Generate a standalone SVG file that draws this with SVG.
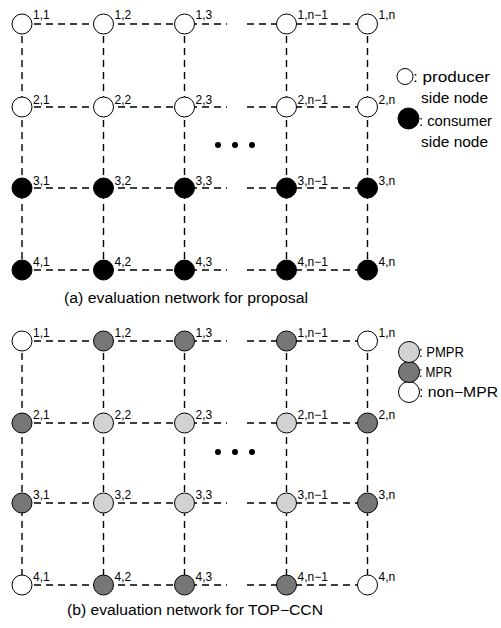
<svg xmlns="http://www.w3.org/2000/svg" width="501" height="628" viewBox="0 0 501 628">
<style>
.e{stroke:#000;stroke-width:1.4;stroke-dasharray:7 5;fill:none}
.n{stroke:#000;stroke-width:1}
.w{fill:#fff}
.b{fill:#000}
.m{fill:#777}
.p{fill:#d2d2d2}
.l{font-family:"Liberation Sans",Arial,sans-serif;font-size:12px;fill:#000}
.t{font-family:"Liberation Sans",Arial,sans-serif;font-size:14px;fill:#000}
</style>
<rect width="501" height="628" fill="#fff"/>
<g id="connectors">
<path class="e" d="M22,24H227M247,24H367.5M22,107H227M247,107H367.5M22,188H227M247,188H367.5M22,270H227M247,270H367.5"/>
<path class="e" d="M22,24V270M103.5,24V270M184.5,24V270M286.5,24V270M367.5,24V270"/>
<path class="e" d="M22,341H227M247,341H367.5M22,423H227M247,423H367.5M22,503H227M247,503H367.5M22,585H227M247,585H367.5"/>
<path class="e" d="M22,341V585M103.5,341V585M184.5,341V585M286.5,341V585M367.5,341V585"/>
</g>
<g id="ellipsis-a"><circle cx="218" cy="145" r="3"/><circle cx="235" cy="145" r="3"/><circle cx="252" cy="145" r="3"/></g>
<g id="ellipsis-b"><circle cx="218" cy="452" r="3"/><circle cx="235" cy="452" r="3"/><circle cx="252" cy="452" r="3"/></g>

<g id="a-1-1"><circle class="n w" cx="22" cy="24" r="10"/><text class="l" x="33" y="19">1,1</text></g>
<g id="a-1-2"><circle class="n w" cx="103.5" cy="24" r="10"/><text class="l" x="114.5" y="19">1,2</text></g>
<g id="a-1-3"><circle class="n w" cx="184.5" cy="24" r="10"/><text class="l" x="195.5" y="19">1,3</text></g>
<g id="a-1-n1"><circle class="n w" cx="286.5" cy="24" r="10"/><text class="l" x="297.5" y="19">1,n−1</text></g>
<g id="a-1-n"><circle class="n w" cx="367.5" cy="24" r="10"/><text class="l" x="378.5" y="19">1,n</text></g>

<g id="a-2-1"><circle class="n w" cx="22" cy="107" r="10"/><text class="l" x="33" y="103.5">2,1</text></g>
<g id="a-2-2"><circle class="n w" cx="103.5" cy="107" r="10"/><text class="l" x="114.5" y="103.5">2,2</text></g>
<g id="a-2-3"><circle class="n w" cx="184.5" cy="107" r="10"/><text class="l" x="195.5" y="103.5">2,3</text></g>
<g id="a-2-n1"><circle class="n w" cx="286.5" cy="107" r="10"/><text class="l" x="297.5" y="103.5">2,n−1</text></g>
<g id="a-2-n"><circle class="n w" cx="367.5" cy="107" r="10"/><text class="l" x="378.5" y="103.5">2,n</text></g>

<g id="a-3-1"><circle class="n b" cx="22" cy="188" r="10"/><text class="l" x="33" y="184.5">3,1</text></g>
<g id="a-3-2"><circle class="n b" cx="103.5" cy="188" r="10"/><text class="l" x="114.5" y="184.5">3,2</text></g>
<g id="a-3-3"><circle class="n b" cx="184.5" cy="188" r="10"/><text class="l" x="195.5" y="184.5">3,3</text></g>
<g id="a-3-n1"><circle class="n b" cx="286.5" cy="188" r="10"/><text class="l" x="297.5" y="184.5">3,n−1</text></g>
<g id="a-3-n"><circle class="n b" cx="367.5" cy="188" r="10"/><text class="l" x="378.5" y="184.5">3,n</text></g>

<g id="a-4-1"><circle class="n b" cx="22" cy="270" r="10"/><text class="l" x="33" y="266">4,1</text></g>
<g id="a-4-2"><circle class="n b" cx="103.5" cy="270" r="10"/><text class="l" x="114.5" y="266">4,2</text></g>
<g id="a-4-3"><circle class="n b" cx="184.5" cy="270" r="10"/><text class="l" x="195.5" y="266">4,3</text></g>
<g id="a-4-n1"><circle class="n b" cx="286.5" cy="270" r="10"/><text class="l" x="297.5" y="266">4,n−1</text></g>
<g id="a-4-n"><circle class="n b" cx="367.5" cy="270" r="10"/><text class="l" x="378.5" y="266">4,n</text></g>

<g id="legend-a">
<circle class="n w" cx="405" cy="76.5" r="8"/>
<text class="t" x="413" y="82" textLength="77" lengthAdjust="spacingAndGlyphs">: producer</text>
<text class="t" x="421" y="103" textLength="67" lengthAdjust="spacingAndGlyphs">side node</text>
<circle class="n b" cx="408.5" cy="118.5" r="10.5"/>
<text class="t" x="419" y="126" textLength="73" lengthAdjust="spacingAndGlyphs">: consumer</text>
<text class="t" x="421" y="147" textLength="67" lengthAdjust="spacingAndGlyphs">side node</text>
</g>
<g id="caption-a"><text class="t" x="64" y="303" textLength="244" lengthAdjust="spacingAndGlyphs">(a) evaluation network for proposal</text></g>

<g id="b-1-1"><circle class="n w" cx="22" cy="341" r="10"/><text class="l" x="33" y="336.5">1,1</text></g>
<g id="b-1-2"><circle class="n m" cx="103.5" cy="341" r="10"/><text class="l" x="114.5" y="336.5">1,2</text></g>
<g id="b-1-3"><circle class="n m" cx="184.5" cy="341" r="10"/><text class="l" x="195.5" y="336.5">1,3</text></g>
<g id="b-1-n1"><circle class="n m" cx="286.5" cy="341" r="10"/><text class="l" x="297.5" y="336.5">1,n−1</text></g>
<g id="b-1-n"><circle class="n w" cx="367.5" cy="341" r="10"/><text class="l" x="378.5" y="336.5">1,n</text></g>

<g id="b-2-1"><circle class="n m" cx="22" cy="423" r="10"/><text class="l" x="33" y="419">2,1</text></g>
<g id="b-2-2"><circle class="n p" cx="103.5" cy="423" r="10"/><text class="l" x="114.5" y="419">2,2</text></g>
<g id="b-2-3"><circle class="n p" cx="184.5" cy="423" r="10"/><text class="l" x="195.5" y="419">2,3</text></g>
<g id="b-2-n1"><circle class="n p" cx="286.5" cy="423" r="10"/><text class="l" x="297.5" y="419">2,n−1</text></g>
<g id="b-2-n"><circle class="n m" cx="367.5" cy="423" r="10"/><text class="l" x="378.5" y="419">2,n</text></g>

<g id="b-3-1"><circle class="n m" cx="22" cy="503" r="10"/><text class="l" x="33" y="499">3,1</text></g>
<g id="b-3-2"><circle class="n p" cx="103.5" cy="503" r="10"/><text class="l" x="114.5" y="499">3,2</text></g>
<g id="b-3-3"><circle class="n p" cx="184.5" cy="503" r="10"/><text class="l" x="195.5" y="499">3,3</text></g>
<g id="b-3-n1"><circle class="n p" cx="286.5" cy="503" r="10"/><text class="l" x="297.5" y="499">3,n−1</text></g>
<g id="b-3-n"><circle class="n m" cx="367.5" cy="503" r="10"/><text class="l" x="378.5" y="499">3,n</text></g>

<g id="b-4-1"><circle class="n w" cx="22" cy="585" r="10"/><text class="l" x="33" y="581">4,1</text></g>
<g id="b-4-2"><circle class="n m" cx="103.5" cy="585" r="10"/><text class="l" x="114.5" y="581">4,2</text></g>
<g id="b-4-3"><circle class="n m" cx="184.5" cy="585" r="10"/><text class="l" x="195.5" y="581">4,3</text></g>
<g id="b-4-n1"><circle class="n m" cx="286.5" cy="585" r="10"/><text class="l" x="297.5" y="581">4,n−1</text></g>
<g id="b-4-n"><circle class="n w" cx="367.5" cy="585" r="10"/><text class="l" x="378.5" y="581">4,n</text></g>

<g id="legend-b">
<circle class="n w" cx="409" cy="392" r="10.5"/>
<circle class="n m" cx="409" cy="372" r="10.5"/>
<circle class="n p" cx="409" cy="352" r="10.5"/>
<text class="t" x="419" y="357" textLength="45" lengthAdjust="spacingAndGlyphs">: PMPR</text>
<text class="t" x="419" y="377" textLength="33" lengthAdjust="spacingAndGlyphs">: MPR</text>
<text class="t" x="419" y="397" textLength="79" lengthAdjust="spacingAndGlyphs">: non−MPR</text>
</g>
<g id="caption-b"><text class="t" x="67" y="615" textLength="256" lengthAdjust="spacingAndGlyphs">(b) evaluation network for TOP−CCN</text></g>
</svg>
